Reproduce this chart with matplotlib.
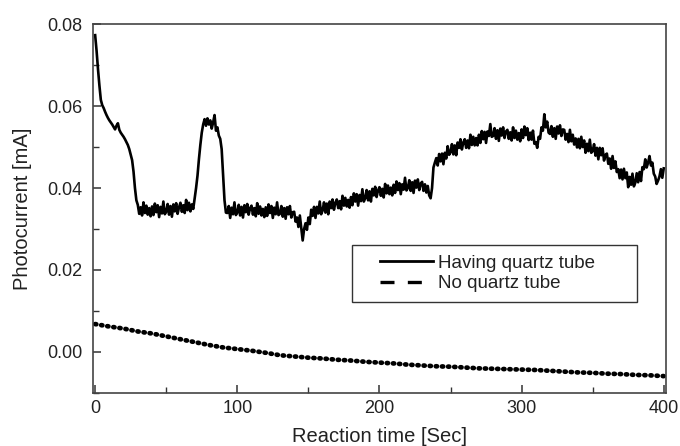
import numpy as np
import matplotlib
matplotlib.use('Agg')
import matplotlib.pyplot as plt
from matplotlib.lines import Line2D
from matplotlib.legend_handler import HandlerLine2D

plt.rcParams['font.family'] = ['Liberation Sans', 'DejaVu Sans']

# Having quartz tube: one reading per second, 0..400 s
t_quartz = np.arange(0, 401, 1)
i_quartz = [
    # 0-29
    0.0773, 0.0735, 0.0690, 0.0650, 0.0615, 0.0602, 0.0595, 0.0586, 0.0578, 0.0571,
    0.0565, 0.0560, 0.0555, 0.0549, 0.0543, 0.0552, 0.0558, 0.0542, 0.0535, 0.0530,
    0.0525, 0.0519, 0.0512, 0.0505, 0.0495, 0.0482, 0.0468, 0.0440, 0.0400, 0.0370,
    # 30-69
    0.0359, 0.0337, 0.0353, 0.0333, 0.0365, 0.0339, 0.0357, 0.0335, 0.0351, 0.0331,
    0.0355, 0.0334, 0.0362, 0.0341, 0.0358, 0.0329, 0.0354, 0.0338, 0.0367, 0.0336,
    0.0342, 0.0361, 0.0335, 0.0356, 0.0330, 0.0360, 0.0343, 0.0363, 0.0337, 0.0353,
    0.0364, 0.0342, 0.0358, 0.0339, 0.0371, 0.0346, 0.0364, 0.0343, 0.0360, 0.0349,
    # 70-99
    0.0375, 0.0400, 0.0430, 0.0470, 0.0505, 0.0535, 0.0555, 0.0568, 0.0552, 0.0570,
    0.0555, 0.0565, 0.0545, 0.0560, 0.0578, 0.0540, 0.0548, 0.0528, 0.0520, 0.0495,
    0.0430, 0.0370, 0.0340, 0.0339, 0.0356, 0.0327, 0.0352, 0.0336, 0.0365, 0.0334,
    # 100-139
    0.0340, 0.0359, 0.0333, 0.0354, 0.0328, 0.0358, 0.0341, 0.0361, 0.0335, 0.0351,
    0.0357, 0.0335, 0.0351, 0.0331, 0.0363, 0.0337, 0.0355, 0.0333, 0.0349, 0.0329,
    0.0353, 0.0332, 0.0360, 0.0339, 0.0356, 0.0327, 0.0352, 0.0336, 0.0365, 0.0334,
    0.0337, 0.0356, 0.0330, 0.0351, 0.0325, 0.0353, 0.0336, 0.0356, 0.0328, 0.0341,
    # 140-179
    0.0342, 0.0318, 0.0328, 0.0305, 0.0333, 0.0302, 0.0272, 0.0300, 0.0314, 0.0298,
    0.0328, 0.0312, 0.0347, 0.0332, 0.0354, 0.0327, 0.0354, 0.0338, 0.0367, 0.0336,
    0.0345, 0.0365, 0.0340, 0.0362, 0.0336, 0.0367, 0.0351, 0.0372, 0.0347, 0.0364,
    0.0372, 0.0351, 0.0368, 0.0348, 0.0381, 0.0357, 0.0376, 0.0355, 0.0371, 0.0352,
    # 180-219
    0.0378, 0.0358, 0.0387, 0.0367, 0.0385, 0.0357, 0.0383, 0.0368, 0.0397, 0.0367,
    0.0375, 0.0395, 0.0370, 0.0392, 0.0367, 0.0398, 0.0382, 0.0403, 0.0378, 0.0394,
    0.0402, 0.0381, 0.0398, 0.0377, 0.0410, 0.0387, 0.0406, 0.0385, 0.0401, 0.0382,
    0.0408, 0.0388, 0.0416, 0.0395, 0.0412, 0.0385, 0.0409, 0.0396, 0.0425, 0.0394,
    # 220-259
    0.0400, 0.0419, 0.0393, 0.0414, 0.0388, 0.0418, 0.0401, 0.0421, 0.0395, 0.0411,
    0.0415, 0.0393, 0.0409, 0.0389, 0.0405, 0.0382, 0.0375, 0.0400, 0.0450, 0.0462,
    0.0473, 0.0455, 0.0483, 0.0465, 0.0484, 0.0458, 0.0486, 0.0472, 0.0502, 0.0481,
    0.0487, 0.0507, 0.0482, 0.0504, 0.0480, 0.0511, 0.0498, 0.0519, 0.0494, 0.0511,
    # 260-299
    0.0519, 0.0498, 0.0516, 0.0497, 0.0530, 0.0505, 0.0525, 0.0504, 0.0522, 0.0504,
    0.0530, 0.0510, 0.0539, 0.0519, 0.0537, 0.0510, 0.0538, 0.0527, 0.0556, 0.0525,
    0.0527, 0.0546, 0.0520, 0.0541, 0.0515, 0.0545, 0.0528, 0.0548, 0.0522, 0.0538,
    0.0542, 0.0520, 0.0536, 0.0516, 0.0548, 0.0522, 0.0540, 0.0518, 0.0534, 0.0514,
    # 300-339
    0.0543, 0.0522, 0.0550, 0.0529, 0.0546, 0.0517, 0.0535, 0.0518, 0.0540, 0.0508,
    0.0512, 0.0498, 0.0525, 0.0520, 0.0548, 0.0540, 0.0580, 0.0548, 0.0562, 0.0535,
    0.0532, 0.0551, 0.0525, 0.0546, 0.0520, 0.0550, 0.0533, 0.0553, 0.0527, 0.0543,
    0.0542, 0.0518, 0.0532, 0.0512, 0.0542, 0.0514, 0.0530, 0.0506, 0.0521, 0.0499,
    # 340-379
    0.0520, 0.0497, 0.0525, 0.0500, 0.0516, 0.0486, 0.0508, 0.0490, 0.0518, 0.0486,
    0.0490, 0.0507, 0.0479, 0.0498, 0.0470, 0.0498, 0.0480, 0.0497, 0.0467, 0.0481,
    0.0484, 0.0459, 0.0472, 0.0447, 0.0478, 0.0449, 0.0465, 0.0439, 0.0446, 0.0424,
    0.0445, 0.0421, 0.0447, 0.0424, 0.0438, 0.0402, 0.0427, 0.0408, 0.0435, 0.0404,
    # 380-400
    0.0413, 0.0436, 0.0414, 0.0439, 0.0417, 0.0451, 0.0446, 0.0470, 0.0450, 0.0462,
    0.0478, 0.0455, 0.0462, 0.0435, 0.0428, 0.0410, 0.0418, 0.0428, 0.0446, 0.0425,
    0.0448,
]

# No quartz tube: sampled every 10 s
t_noquartz = np.arange(0, 401, 10)
i_noquartz = [
    0.0068, 0.0062, 0.0057, 0.0050, 0.0045, 0.0038, 0.0031, 0.0024, 0.0017, 0.0011,
    0.0007, 0.0003, -0.0002, -0.0008, -0.0011, -0.0014, -0.0016, -0.0019, -0.0021, -0.0024,
    -0.0026, -0.0028, -0.0031, -0.0033, -0.0035, -0.0036, -0.0038, -0.0040, -0.0041, -0.0042,
    -0.0043, -0.0044, -0.0046, -0.0048, -0.0050, -0.0051, -0.0053, -0.0054, -0.0056, -0.0057,
    -0.0059,
]

fig = plt.figure(figsize=(6.8, 4.46), dpi=100)
ax = fig.add_axes([0.137, 0.119, 0.842, 0.827])

ax.plot(t_quartz, i_quartz, color='black', linewidth=1.9)
ax.plot(t_noquartz, i_noquartz, color='black', linewidth=3.4,
        linestyle=(0, (0.25, 1.05)), dash_capstyle='round')

ax.set_xlim(-1.4, 401.4)
ax.set_ylim(-0.01, 0.08)
ax.set_xticks([0, 100, 200, 300, 400])
ax.set_xticks([50, 150, 250, 350], minor=True)
ax.set_yticks([0.00, 0.02, 0.04, 0.06, 0.08])
ax.set_yticks([-0.01, 0.01, 0.03, 0.05, 0.07], minor=True)
ax.set_yticklabels(['0.00', '0.02', '0.04', '0.06', '0.08'])
ax.tick_params(which='both', direction='in', colors='#333333', labelcolor='#222222',
               labelsize=13)
ax.tick_params(axis='y', which='major', pad=8)
ax.tick_params(axis='x', which='major', pad=5)
ax.tick_params(which='major', length=6, width=1.1)
ax.tick_params(which='minor', length=4, width=1.0)
for s in ax.spines.values():
    s.set_color('#444444')
    s.set_linewidth(1.2)

ax.set_xlabel('Reaction time [Sec]', fontsize=14.5, color='#222222', labelpad=7)
ax.set_ylabel('Photocurrent [mA]', fontsize=14.5, color='#222222', labelpad=11)

handles = [
    Line2D([], [], color='black', linewidth=2.0),
    Line2D([], [], color='black', linewidth=2.4, linestyle=(0, (4.2, 4.0))),
]
leg = ax.legend(handles, ['Having quartz tube', 'No quartz tube'],
                loc='upper left', bbox_to_anchor=(0.452, 0.225, 0.497, 0.176),
                mode='expand', borderaxespad=0, fancybox=False, framealpha=1,
                edgecolor='#333333', fontsize=13.5, handlelength=3.8,
                handletextpad=0.3, labelspacing=0.2, borderpad=0.5,
                handler_map={Line2D: HandlerLine2D(xpad=1.0)})
leg.get_frame().set_linewidth(1.0)
for txt in leg.get_texts():
    txt.set_color('#222222')

fig.savefig('out.png', dpi=100)
